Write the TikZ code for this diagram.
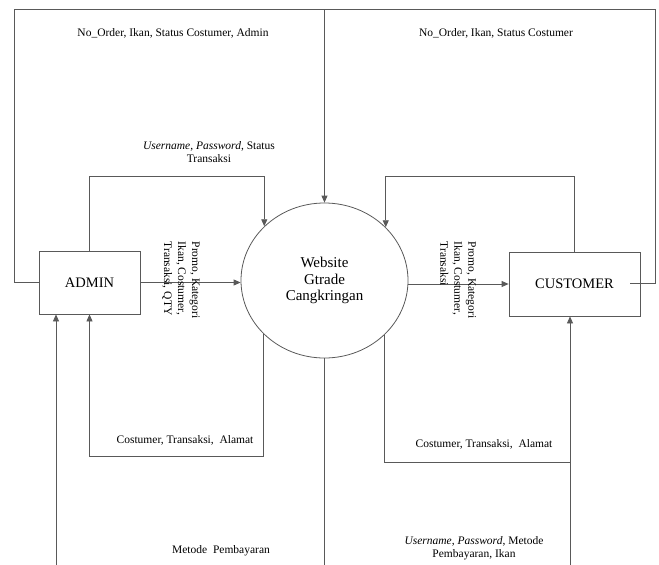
\documentclass[tikz,border=0pt]{standalone}
\usepackage{fontspec}
\setmainfont{Liberation Serif}
\usetikzlibrary{arrows.meta,shapes.geometric}
\begin{document}
\begin{tikzpicture}[x=1pt,y=-1pt,
  line/.style={draw=black!65, line width=0.8pt},
  flow/.style={line, -{Triangle[length=7pt,width=6pt]}},
  entity/.style={draw=black!65, line width=0.8pt, rectangle, minimum width=101pt, minimum height=63pt, inner sep=0pt, font=\fontsize{14.5}{16}\selectfont},
  process/.style={draw=black!65, line width=0.8pt, ellipse, minimum width=167pt, minimum height=155pt, inner sep=0pt, align=center, font=\fontsize{15}{16.5}\selectfont},
  lbl/.style={inner sep=0pt, align=center, font=\fontsize{11.5}{13}\selectfont},
  vlbl/.style={inner sep=0pt, align=left, rotate=-90, font=\fontsize{11.5}{14}\selectfont}
]
\useasboundingbox (0,0) rectangle (659,565);

% nodes
\node[entity] (admin) at (89.5,282.5) {ADMIN};
\node[entity, minimum width=131pt, minimum height=64pt] (cust) at (574.5,284) {CUSTOMER};
\node[process] (web) at (324.5,280.5) {Website\\Gtrade\\Cangkringan};

% helper coordinates
\coordinate (topl) at (14,9);
\coordinate (topr) at (655,9);
\coordinate (topm) at (324.5,9);
\coordinate (midy) at (0,176);
\coordinate (botl) at (0,456);
\coordinate (botr) at (0,462);
\coordinate (b1) at (56,565);
\coordinate (b2) at (324.5,565);
\coordinate (b3) at (570,565);
\coordinate (cr) at (630,283);

% top big loops
\draw[line] (admin.west) -| (topl) -- (topm);
\draw[line] (cr) -- (cr -| topr) -- (topr) -- (topm);
\draw[flow] (topm) -- (web.north);

% upper small loops
\draw[flow] (admin.north) -- (admin.north |- midy) -| (web.138.1);
\draw[flow] (cust.north) -- (cust.north |- midy) -| (web.41.9);

% horizontal flows
\draw[flow] (admin.east) -- (admin.east -| web.west);
\draw[flow] (web.east |- cust.west) -- (cust.west);

% lower loops
\draw[flow] (web.221.9) -- (web.221.9 |- botl) -| (admin.south);
\draw[line] (web.318.1) -- (web.318.1 |- botr) -- (b3 |- botr);
\draw[flow] (b3) -- (b3 |- cust.south);
\draw[flow] (b1) -- (b1 |- admin.south);
\draw[line] (web.south) -- (b2);

% labels
\node[lbl] (l1) at (173,33) {No\_Order, Ikan, Status Costumer, Admin};
\node[lbl] (l2) at (496,33) {No\_Order, Ikan, Status Costumer};
\node[lbl] (l3) at (209,152) {\textit{Username}, \textit{Password}, Status\\Transaksi};
\node[vlbl] (l4) at (181,280) {Promo, Kategori\\Ikan, Costumer,\\Transaksi, QTY};
\node[vlbl] (l5) at (458,280) {Promo, Kategori\\Ikan, Costumer,\\Transaksi};
\node[lbl] (l6) at (185,440) {Costumer, Transaksi,~ Alamat};
\node[lbl] (l7) at (484,444) {Costumer, Transaksi,~ Alamat};
\node[lbl] (l8) at (221,551) {Metode~ Pembayaran};
\node[lbl] (l9) at (474,548) {\textit{Username}, \textit{Password}, Metode\\Pembayaran, Ikan};
\end{tikzpicture}
\end{document}
